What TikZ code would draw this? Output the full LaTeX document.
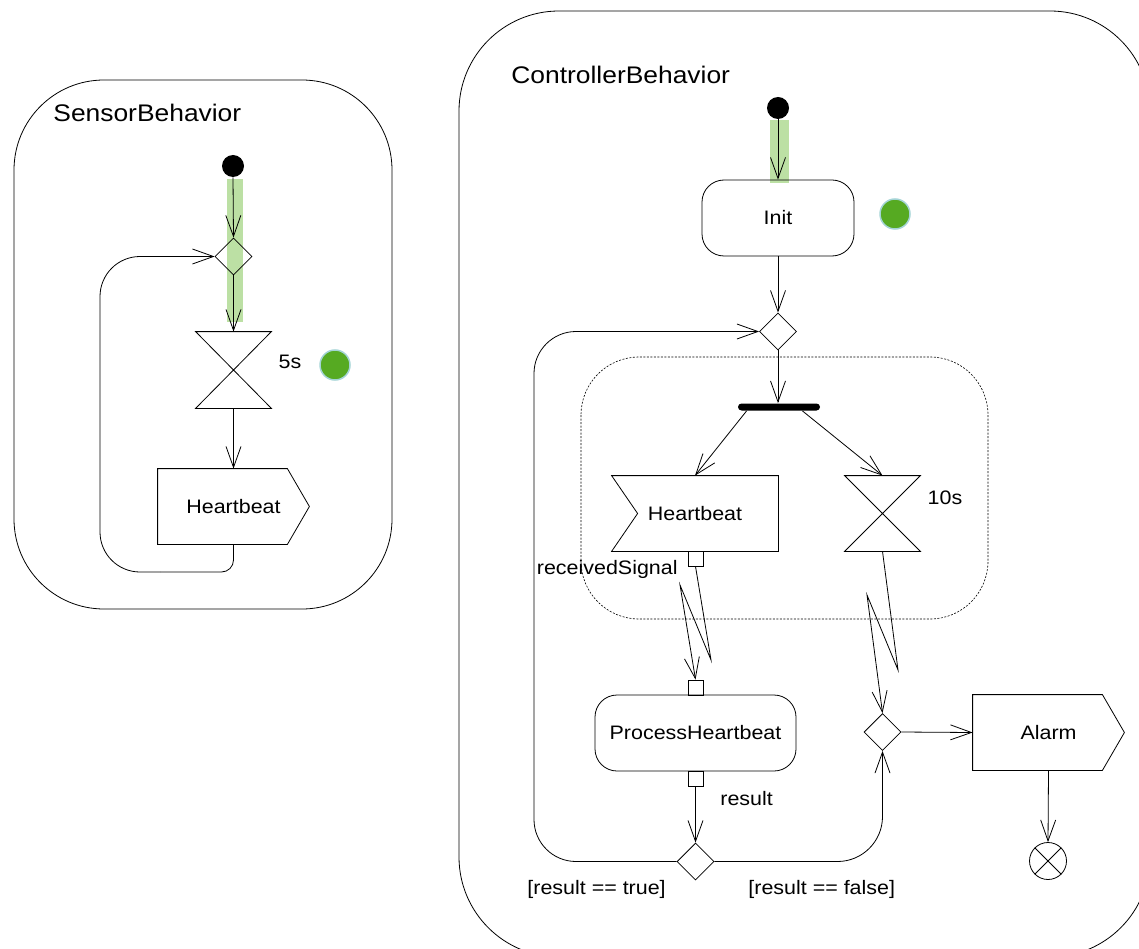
\documentclass[tikz,border=0pt]{standalone}
\usepackage{fontspec}
\setmainfont{Liberation Sans}[FakeStretch=1.1]
\usetikzlibrary{arrows.meta,shapes.geometric,calc}

\definecolor{tokengreen}{RGB}{86,170,34}
\definecolor{tokenrim}{RGB}{165,212,214}
\definecolor{trace}{RGB}{188,224,164}

\tikzset{
  flow/.style={-{Straight Barb[length=21pt,width=15pt]}},
  startnode/.style={circle, fill=black, inner sep=0pt, minimum size=22pt},
  decision/.style={diamond, draw, inner sep=0pt, minimum size=37pt},
  action/.style={rectangle, draw, rounded corners=22pt, inner sep=0pt, minimum height=76pt},
  slot/.style={rectangle, inner sep=0pt},
  pin/.style={rectangle, draw, fill=white, inner sep=0pt, minimum size=15pt},
  forkbar/.style={rectangle, fill=black, rounded corners=3.5pt, inner sep=0pt, minimum width=82pt, minimum height=7pt},
  flowfinal/.style={circle, draw, inner sep=0pt, minimum size=37pt},
  token/.style={circle, fill=tokengreen, draw=tokenrim, line width=1.5pt, inner sep=0pt, minimum size=30pt},
  region/.style={draw, line width=0.6pt, dash pattern=on 2pt off 1.5pt, rounded corners=58pt},
  title/.style={font=\fontsize{24}{28}\selectfont, inner sep=0pt},
  label/.style={inner sep=0pt}
}

\begin{document}
\begin{tikzpicture}[x=1pt, y=-1pt, line width=0.8pt, font=\fontsize{19.5}{23}\selectfont]
\useasboundingbox (0,0) rectangle (1139,949);
\clip (0,0) rectangle (1139,949);

% activity frames
\draw[rounded corners=90pt] (14,80) rectangle (392,609);
\draw[rounded corners=100pt] (459,11) rectangle (1150,957);
\node[title, anchor=base west] (sensorTitle) at (53,122) {SensorBehavior};
\node[title, anchor=base west] (ctrlTitle) at (511,84) {ControllerBehavior};

% highlighted traces of the token path
\fill[trace] (227,179) rectangle (243,322);
\fill[trace] (770,120) rectangle (789,183);

% interruptible region
\draw[region] (581,357) rectangle (988,619);

% ---------- SensorBehavior ----------
\node[startnode] (s0) at (233,166) {};
\node[decision] (sd) at (233.5,256.5) {};
\node[slot, minimum width=75pt, minimum height=76pt] (st) at (233.5,370) {};
\draw (st.north west) -- (st.north east) -- (st.south west) -- (st.south east) -- cycle;
\node[label] (stl) at (290,362) {5s};
\node[token] (stok) at (335,365) {};
\node[slot, minimum width=151pt, minimum height=75pt] (ssend) at (233.5,506.5) {Heartbeat};
\draw (ssend.north west) -- ($(ssend.north east)+(-22,0)$) -- (ssend.east)
      -- ($(ssend.south east)+(-22,0)$) -- (ssend.south west) -- cycle;

\draw[flow] (s0.south) -- (sd.north);
\draw[flow] (sd.south) -- (st.north);
\draw[flow] (st.south) -- (ssend.north);
\coordinate (sloop) at (160,572);
\draw[rounded corners=12pt] (ssend.south) |- (sloop);
\draw[flow, rounded corners=40pt] (sloop) -| (100,400) |- (sd.west);

% ---------- ControllerBehavior ----------
\node[startnode] (c0) at (778,108) {};
\node[action, minimum width=152pt] (init) at (778,218) {Init};
\node[token] (ctok) at (895,214) {};
\node[decision] (md) at (778,331.5) {};
\node[forkbar] (fork) at (779,407) {};

\node[slot, minimum width=166pt, minimum height=75pt] (ah) at (695,513.5) {Heartbeat};
\draw (ah.north west) -- (ah.north east) -- (ah.south east) -- (ah.south west)
      -- ($(ah.west)+(26,0)$) -- cycle;
\node[pin] (p1) at (695.5,558.5) {};
\node[label, anchor=base east] (rsl) at (678,574) {receivedSignal};

\node[slot, minimum width=75pt, minimum height=75pt] (tm) at (882.5,513.5) {};
\draw (tm.north west) -- (tm.north east) -- (tm.south west) -- (tm.south east) -- cycle;
\node[label] (tml) at (945,498) {10s};

\node[pin] (p2) at (695.5,687.5) {};
\node[action, minimum width=201pt] (ph) at (695.5,733) {ProcessHeartbeat};
\node[pin] (p3) at (695.5,778.5) {};
\node[label, anchor=base west] (resl) at (720,805) {result};

\node[decision] (bd) at (695.5,861.5) {};
\node[label, anchor=base west] (tl) at (527,894) {[result == true]};
\node[label, anchor=base west] (fl) at (748,894) {[result == false]};

\node[decision] (rd) at (882.5,732) {};
\node[slot, minimum width=151pt, minimum height=75pt] (alarm) at (1048.5,732.5) {Alarm};
\draw (alarm.north west) -- ($(alarm.north east)+(-22,0)$) -- (alarm.east)
      -- ($(alarm.south east)+(-22,0)$) -- (alarm.south west) -- cycle;
\node[flowfinal] (ff) at (1048,861) {};
\draw (ff.north west) -- (ff.south east) (ff.north east) -- (ff.south west);

% controller flows
\draw[flow] (c0.south) -- (init.north);
\draw[flow] (init.south) -- (md.north);
\draw[flow] (md.south) -- (md.south |- fork.north);
\draw[flow] ($(fork.south west)+(9,0)$) -- (ah.north);
\draw[flow] ($(fork.south east)+(-18,0)$) -- (tm.north);
\draw[flow] (p1.south) -- (711,660) -- (680,585) -- (p2.north);
\draw[flow] (tm.south) -- (898,670) -- (867,595) -- (rd.north);
\draw[flow] (p3.south) -- (bd.north);
\draw[flow, rounded corners=42pt] (bd.west) -| (534,600) |- (md.west);
\draw[flow, rounded corners=45pt] (bd.east) -| (rd.south);
\draw[flow] (rd.east) -- (alarm.west);
\draw[flow] (alarm.south) -- (ff.north);
\end{tikzpicture}
\end{document}
